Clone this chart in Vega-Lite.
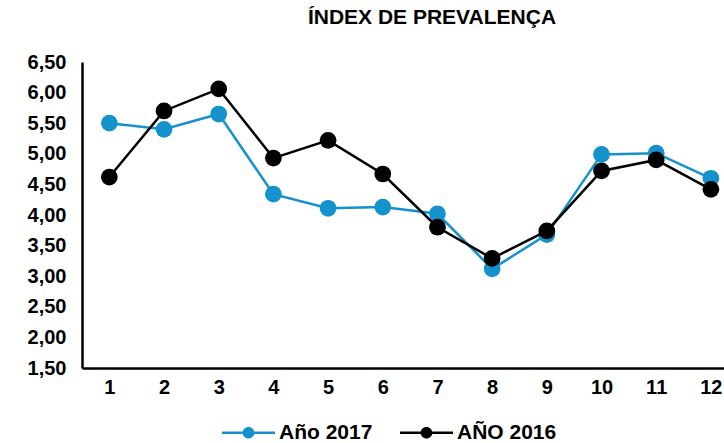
{
  "$schema": "https://vega.github.io/schema/vega-lite/v6.json",
  "autosize": "none",
  "width": 642,
  "height": 306,
  "padding": {"left": 82, "top": 62, "right": 0, "bottom": 75},
  "title": {
    "text": "ÍNDEX DE PREVALENÇA",
    "font": "Liberation Sans",
    "fontSize": 21,
    "fontWeight": "bold",
    "color": "#000000",
    "anchor": "middle",
    "dx": 29,
    "offset": 24
  },
  "data": {
    "values": [
      {"mes": 1, "serie": "Año 2017", "valor": 5.50},
      {"mes": 2, "serie": "Año 2017", "valor": 5.40},
      {"mes": 3, "serie": "Año 2017", "valor": 5.65},
      {"mes": 4, "serie": "Año 2017", "valor": 4.34},
      {"mes": 5, "serie": "Año 2017", "valor": 4.11},
      {"mes": 6, "serie": "Año 2017", "valor": 4.13},
      {"mes": 7, "serie": "Año 2017", "valor": 4.02},
      {"mes": 8, "serie": "Año 2017", "valor": 3.12},
      {"mes": 9, "serie": "Año 2017", "valor": 3.68},
      {"mes": 10, "serie": "Año 2017", "valor": 4.99},
      {"mes": 11, "serie": "Año 2017", "valor": 5.01},
      {"mes": 12, "serie": "Año 2017", "valor": 4.60},
      {"mes": 1, "serie": "AÑO 2016", "valor": 4.62},
      {"mes": 2, "serie": "AÑO 2016", "valor": 5.70},
      {"mes": 3, "serie": "AÑO 2016", "valor": 6.06},
      {"mes": 4, "serie": "AÑO 2016", "valor": 4.93},
      {"mes": 5, "serie": "AÑO 2016", "valor": 5.22},
      {"mes": 6, "serie": "AÑO 2016", "valor": 4.67},
      {"mes": 7, "serie": "AÑO 2016", "valor": 3.80},
      {"mes": 8, "serie": "AÑO 2016", "valor": 3.29},
      {"mes": 9, "serie": "AÑO 2016", "valor": 3.74},
      {"mes": 10, "serie": "AÑO 2016", "valor": 4.72},
      {"mes": 11, "serie": "AÑO 2016", "valor": 4.90},
      {"mes": 12, "serie": "AÑO 2016", "valor": 4.42}
    ]
  },
  "encoding": {
    "x": {
      "field": "mes",
      "type": "quantitative",
      "scale": {"domain": [0.5, 12.24], "nice": false, "zero": false},
      "axis": {
        "title": null,
        "values": [1, 2, 3, 4, 5, 6, 7, 8, 9, 10, 11, 12],
        "format": "d",
        "grid": false,
        "ticks": false,
        "labelPadding": 9
      }
    },
    "y": {
      "field": "valor",
      "type": "quantitative",
      "scale": {"domain": [1.5, 6.5], "nice": false, "zero": false},
      "axis": {
        "title": null,
        "values": [1.5, 2, 2.5, 3, 3.5, 4, 4.5, 5, 5.5, 6, 6.5],
        "format": ".2f",
        "grid": false,
        "ticks": false,
        "labelPadding": 16
      }
    },
    "color": {
      "field": "serie",
      "type": "nominal",
      "scale": {"domain": ["Año 2017", "AÑO 2016"], "range": ["#1492CB", "#000000"]},
      "legend": {
        "title": null,
        "orient": "none",
        "direction": "horizontal",
        "legendX": 140,
        "legendY": 344,
        "padding": 0,
        "symbolType": "M-1,-0.045H1V0.045H-1Z M-0.22,0A0.22,0.22 0 1,1 0.22,0A0.22,0.22 0 1,1 -0.22,0Z",
        "symbolSize": 2809,
        "symbolStrokeWidth": 0,
        "labelOffset": 4,
        "columnPadding": 27,
        "labelFont": "Liberation Sans",
        "labelFontSize": 21,
        "labelFontWeight": "bold",
        "labelColor": "#000000",
        "encode": {
          "symbols": {
            "update": {
              "fill": {"scale": "color", "field": "value"},
              "stroke": {"value": "transparent"},
              "opacity": {"value": 1}
            }
          }
        }
      }
    }
  },
  "layer": [
    {
      "transform": [{"filter": "datum.serie === 'Año 2017'"}],
      "mark": {"type": "line", "strokeWidth": 2.5, "point": {"filled": true, "size": 280, "opacity": 1}}
    },
    {
      "transform": [{"filter": "datum.serie === 'AÑO 2016'"}],
      "mark": {"type": "line", "strokeWidth": 2.5, "point": {"filled": true, "size": 280, "opacity": 1}}
    }
  ],
  "config": {
    "locale": {
      "number": {"decimal": ",", "thousands": ".", "grouping": [3], "currency": ["", " €"]}
    },
    "view": {"stroke": null},
    "axis": {
      "domainColor": "#000000",
      "domainWidth": 2.5,
      "labelFont": "Liberation Sans",
      "labelFontSize": 20,
      "labelFontWeight": "bold",
      "labelColor": "#000000"
    }
  }
}
